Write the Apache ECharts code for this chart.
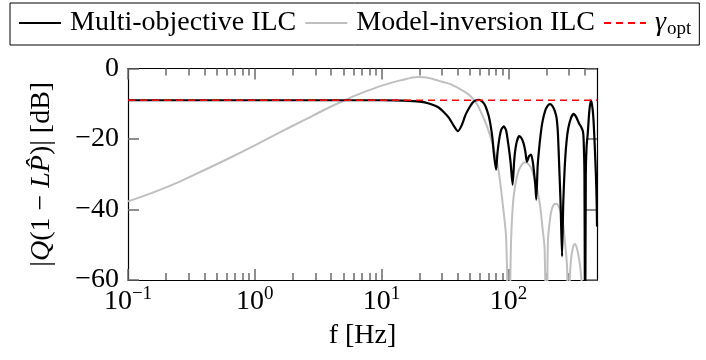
<!DOCTYPE html>
<html>
<head>
<meta charset="utf-8">
<script src="https://cdn.jsdelivr.net/npm/echarts@6/dist/echarts.min.js"></script>
<style>
  html, body { margin: 0; padding: 0; background: #fff; }
  #chart { width: 706px; height: 360px; }
</style>
</head>
<body>
<div id="chart"></div>
<script>
// multi-objective ILC, |Q(1-LP)| in dB
const multiObjFreq = [0.1, 1, 5, 10, 15, 20, 24, 28, 31, 34, 37, 40, 43, 46, 49, 52, 55, 59, 63, 66,
    70, 73, 75, 77, 80, 82, 85, 88, 92, 96, 100, 104, 108, 111, 113, 117, 122, 127, 132, 136,
    140, 145, 151, 155, 158, 163, 166, 170, 174, 180, 186, 195, 204, 213, 222, 232, 240, 246, 252, 258,
    265, 271, 278, 287, 297, 312, 327, 343, 360, 375, 387, 392, 398, 403, 408, 414, 422, 435, 448, 460,
    470, 480, 490, 497, 500];
const multiObjDb = [-9, -9, -9, -9, -9.1, -9.4, -10.0, -11.0, -12.4, -14.0, -16.2, -17.8, -16.0, -13.1, -11.2, -9.8, -9.1, -8.9, -9.6, -10.7,
    -13.5, -16.9, -20, -24.5, -28.7, -24, -19.7, -17.3, -16.4, -17.6, -21.6, -26.5, -33, -26.5, -23.5, -20.5, -19.2, -19.8, -21.3, -23.5,
    -26.5, -25, -24.4, -26, -28.2, -33, -37.2, -28, -23.5, -18.5, -15, -12, -10.6, -10.1, -10.6, -12, -14, -18.5, -28.2, -38,
    -53.3, -38, -28.2, -21, -16.9, -14.0, -12.9, -13.8, -15.5, -16.6, -17.8, -20, -30, -80, -30, -22, -18.8, -12, -9, -11,
    -15, -22, -30, -38, -44.8];

// model-inversion ILC
const modelInvFreq = [0.1, 0.157, 0.248, 0.39, 0.615, 1, 1.52, 2.4, 3.78, 5.11, 6.92, 10.2, 14.3, 19.4, 22.7, 25, 28, 34, 41, 47,
    52, 57, 62, 68, 74, 83, 91, 96, 101, 105, 109, 114, 120, 128, 135, 143, 151, 160, 170, 178,
    186, 193, 200, 205, 211, 218, 228, 240, 252, 263, 272, 279, 290, 298, 305, 311, 322, 335, 346, 356,
    368, 380, 390];
const modelInvDb = [-37.7, -35.2, -32.3, -29.0, -25.6, -21.8, -18.4, -14.8, -11.2, -9.0, -7.0, -4.8, -3.3, -2.4, -2.55, -2.9, -3.45, -4.3, -5.7, -7.0,
    -8.4, -10.3, -13.1, -16.5, -20.7, -28.2, -39.6, -48, -80, -49, -37.7, -32.5, -29.2, -27.2, -26.6, -27, -28.2, -31, -34.8, -39,
    -45.3, -51, -80, -49, -44, -40.5, -38.6, -38.4, -39.5, -41.5, -45, -49, -56, -80, -60, -54.7, -51, -49.8, -50.8, -52.8,
    -56, -62, -80];

// optimal bound
const gammaFreq = [0.1, 500];
const gammaDb = [-9, -9];

const majorTicks = [0.1, 1, 10, 100];
const minorTicks = [0.2, 0.3, 0.4, 0.5, 0.6, 0.7, 0.8, 0.9,
    2, 3, 4, 5, 6, 7, 8, 9,
    20, 30, 40, 50, 60, 70, 80, 90,
    200, 300, 400];
const yTicks = [-60, -40, -20, 0];

const font = "Liberation Serif";
const pairs = (xs, ys) => xs.map((x, i) => [x, ys[i]]);

const chart = echarts.init(document.getElementById("chart"), null, { renderer: "canvas" });

const gridBox = () => ({ left: 128, right: 109, top: 68.5, bottom: 80, outerBoundsMode: "none" });
const tick = (c) => ({ color: c, width: 1.5 });
const frame = () => ({ show: true, onZero: false, lineStyle: { color: "#000", width: 1.2 } });
const noLine = () => ({ show: false, onZero: false });

const xBase = () => ({
    type: "log",
    logBase: 10,
    min: 0.1,
    max: 500,
    splitLine: { show: false },
    minorTick: { show: false },
});

const options = {
    animation: false,
    backgroundColor: "#fff",
    grid: [gridBox(), gridBox()],
    legend: {
        left: 10,
        top: 3,
        padding: [6, 8, 6, 8],
        borderColor: "#000",
        borderWidth: 1,
        itemWidth: 42,
        itemHeight: 14,
        itemGap: 8,
        itemStyle: { opacity: 0 },
        data: ["Multi-objective ILC", "Model-inversion ILC", "gamma"],
        formatter: (name) => name === "gamma" ? "{g|γ}{s|opt}" : "{t|" + name + "}",
        textStyle: {
            fontFamily: font,
            fontSize: 28,
            color: "#000",
            rich: {
                t: { fontFamily: font, fontSize: 28, lineHeight: 32, padding: [0, 0, 0, 4] },
                g: { fontFamily: font, fontSize: 28, lineHeight: 32, fontStyle: "italic", padding: [0, 0, 0, 4] },
                s: { fontFamily: font, fontSize: 19, lineHeight: 19, verticalAlign: "bottom", padding: [4, 0, 0, 1] },
            },
        },
    },
    xAxis: [
        Object.assign(xBase(), {
            gridIndex: 0,
            position: "bottom",
            axisLine: frame(),
            axisTick: { show: true, inside: true, length: 11, lineStyle: tick("dimgray"), customValues: majorTicks },
            axisLabel: {
                margin: 5,
                customValues: majorTicks,
                formatter: (v) => "{b|10}{s|" + String(Math.round(Math.log10(v))).replace("-", "−") + "}",
                rich: {
                    b: { fontFamily: font, fontSize: 28, lineHeight: 34, color: "#000" },
                    s: { fontFamily: font, fontSize: 19, lineHeight: 19, verticalAlign: "top", color: "#000" },
                },
            },
            name: "f [Hz]",
            nameLocation: "middle",
            nameGap: 42,
            nameTextStyle: { fontFamily: font, fontSize: 28, color: "#000" },
        }),
        Object.assign(xBase(), {
            gridIndex: 0,
            position: "top",
            axisLine: frame(),
            axisTick: { show: true, inside: true, length: 11, lineStyle: tick("dimgray"), customValues: majorTicks },
            axisLabel: { show: false },
        }),
        Object.assign(xBase(), {
            gridIndex: 1,
            position: "bottom",
            axisLine: noLine(),
            axisTick: { show: true, inside: true, length: 7, lineStyle: tick("dimgray"), customValues: minorTicks },
            axisLabel: { show: false },
        }),
        Object.assign(xBase(), {
            gridIndex: 1,
            position: "top",
            axisLine: noLine(),
            axisTick: { show: true, inside: true, length: 7, lineStyle: tick("dimgray"), customValues: minorTicks },
            axisLabel: { show: false },
        }),
    ],
    yAxis: [
        {
            type: "value",
            gridIndex: 0,
            position: "left",
            min: -60,
            max: 0,
            interval: 20,
            splitLine: { show: false },
            axisLine: frame(),
            axisTick: { show: true, inside: true, length: 11, lineStyle: tick("dimgray"), customValues: yTicks },
            axisLabel: {
                margin: 9,
                fontFamily: font,
                fontSize: 28,
                color: "#000",
                formatter: (v) => v < 0 ? "−" + Math.abs(v) : String(v),
            },
            name: "{t||}{i|Q}{t|(1 − }{i|L}{i|P̂}{t|)| [dB]}",
            nameLocation: "middle",
            nameGap: 72,
            nameTextStyle: {
                fontFamily: font,
                fontSize: 28,
                color: "#000",
                rich: {
                    t: { fontFamily: font, fontSize: 28, color: "#000" },
                    i: { fontFamily: font, fontSize: 28, fontStyle: "italic", color: "#000" },
                },
            },
        },
        {
            type: "value",
            gridIndex: 0,
            position: "right",
            min: -60,
            max: 0,
            interval: 20,
            splitLine: { show: false },
            axisLine: frame(),
            axisTick: { show: true, inside: true, length: 11, lineStyle: tick("dimgray"), customValues: yTicks },
            axisLabel: { show: false },
        },
        {
            type: "value",
            gridIndex: 1,
            min: -60,
            max: 0,
            show: false,
        },
    ],
    series: [
        {
            name: "Model-inversion ILC",
            type: "line",
            xAxisIndex: 0,
            yAxisIndex: 0,
            symbol: "none",
            smooth: 0.3,
            clip: true,
            z: 2,
            lineStyle: { color: "#bfbfbf", width: 2 },
            itemStyle: { color: "#bfbfbf" },
            data: pairs(modelInvFreq, modelInvDb),
        },
        {
            name: "Multi-objective ILC",
            type: "line",
            xAxisIndex: 0,
            yAxisIndex: 0,
            symbol: "none",
            smooth: 0.2,
            clip: true,
            z: 3,
            lineStyle: { color: "#000", width: 2.2 },
            itemStyle: { color: "#000" },
            data: pairs(multiObjFreq, multiObjDb),
        },
        {
            name: "gamma",
            type: "line",
            xAxisIndex: 0,
            yAxisIndex: 0,
            symbol: "none",
            z: 4,
            lineStyle: { color: "#ff0000", width: 1.5, type: [7, 5] },
            itemStyle: { color: "#ff0000" },
            data: pairs(gammaFreq, gammaDb),
        },
    ],
};

chart.setOption(options);
</script>
</body>
</html>
